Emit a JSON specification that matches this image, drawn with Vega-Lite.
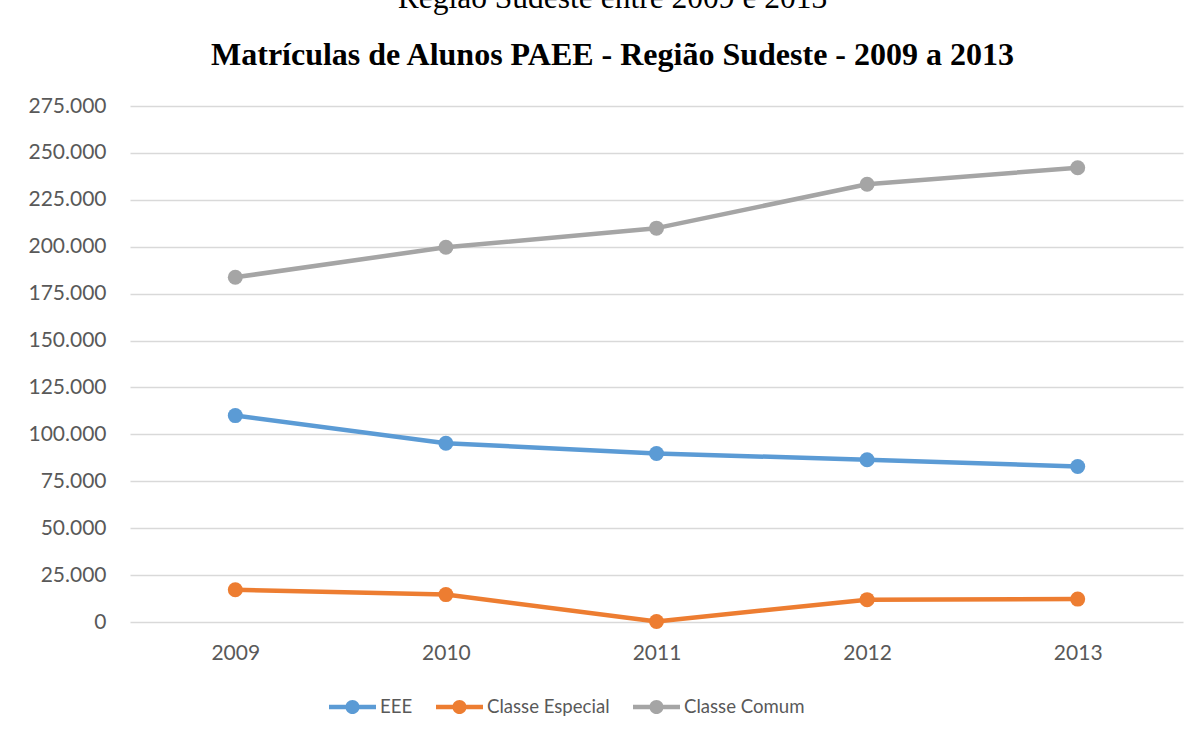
{
  "$schema": "https://vega.github.io/schema/vega-lite/v6.json",
  "width": 1053,
  "height": 516,
  "autosize": {"type": "none"},
  "padding": {"left": 130, "top": 106, "right": 17, "bottom": 114},
  "background": "white",
  "title": {
    "text": "Região Sudeste entre 2009 e 2013",
    "subtitle": "Matrículas de Alunos PAEE - Região Sudeste - 2009 a 2013",
    "font": "Liberation Serif",
    "fontSize": 31.5,
    "fontWeight": "normal",
    "color": "black",
    "subtitleFont": "Liberation Serif",
    "subtitleFontSize": 32,
    "subtitleFontWeight": "bold",
    "subtitleColor": "black",
    "subtitlePadding": 26,
    "anchor": "middle",
    "dx": -44,
    "offset": 24
  },
  "data": {
    "values": [
      {"ano": "2009", "serie": "EEE", "valor": 110000},
      {"ano": "2010", "serie": "EEE", "valor": 95300},
      {"ano": "2011", "serie": "EEE", "valor": 89800},
      {"ano": "2012", "serie": "EEE", "valor": 86500},
      {"ano": "2013", "serie": "EEE", "valor": 82900},
      {"ano": "2009", "serie": "Classe Especial", "valor": 17200},
      {"ano": "2010", "serie": "Classe Especial", "valor": 14600},
      {"ano": "2011", "serie": "Classe Especial", "valor": 300},
      {"ano": "2012", "serie": "Classe Especial", "valor": 11900},
      {"ano": "2013", "serie": "Classe Especial", "valor": 12200},
      {"ano": "2009", "serie": "Classe Comum", "valor": 183700},
      {"ano": "2010", "serie": "Classe Comum", "valor": 199700},
      {"ano": "2011", "serie": "Classe Comum", "valor": 209900},
      {"ano": "2012", "serie": "Classe Comum", "valor": 233300},
      {"ano": "2013", "serie": "Classe Comum", "valor": 242100}
    ]
  },
  "encoding": {
    "x": {
      "field": "ano",
      "type": "ordinal",
      "scale": {"type": "point", "padding": 0.5},
      "axis": {
        "title": null,
        "labelAngle": 0,
        "domain": false,
        "ticks": false,
        "grid": false,
        "labelFont": "Lato",
        "labelFontSize": 21,
        "labelColor": "#595959",
        "labelPadding": 20
      }
    },
    "y": {
      "field": "valor",
      "type": "quantitative",
      "scale": {"domain": [0, 275000], "nice": false},
      "axis": {
        "title": null,
        "values": [0, 25000, 50000, 75000, 100000, 125000, 150000, 175000, 200000, 225000, 250000, 275000],
        "labelExpr": "datum.value == 0 ? '0' : format(datum.value / 1000, '.3f')",
        "domain": false,
        "ticks": false,
        "grid": true,
        "gridColor": "#d9d9d9",
        "gridWidth": 1.3,
        "labelFont": "Lato",
        "labelFontSize": 21,
        "labelColor": "#595959",
        "labelPadding": 24
      }
    },
    "color": {
      "field": "serie",
      "type": "nominal",
      "scale": {
        "domain": ["EEE", "Classe Especial", "Classe Comum"],
        "range": ["#5B9BD5", "#ED7D31", "#A5A5A5"]
      },
      "legend": {
        "title": null,
        "orient": "none",
        "direction": "horizontal",
        "legendX": 199,
        "legendY": 577,
        "padding": 0,
        "symbolType": "M-1,-0.096H1V0.096H-1Z M0.3,0A0.3,0.3 0 1,1 -0.3,0A0.3,0.3 0 1,1 0.3,0Z",
        "symbolSize": 2209,
        "symbolStrokeWidth": 0,
        "symbolOpacity": 1,
        "labelFont": "Lato",
        "labelFontSize": 18.6,
        "labelColor": "#595959",
        "labelOffset": 4,
        "columnPadding": 23
      }
    }
  },
  "layer": [
    {
      "mark": {"type": "line", "strokeWidth": 4.5, "strokeCap": "round", "strokeJoin": "round"}
    },
    {
      "mark": {"type": "point", "filled": true, "size": 225, "opacity": 1}
    }
  ],
  "config": {
    "view": {"stroke": null}
  }
}
